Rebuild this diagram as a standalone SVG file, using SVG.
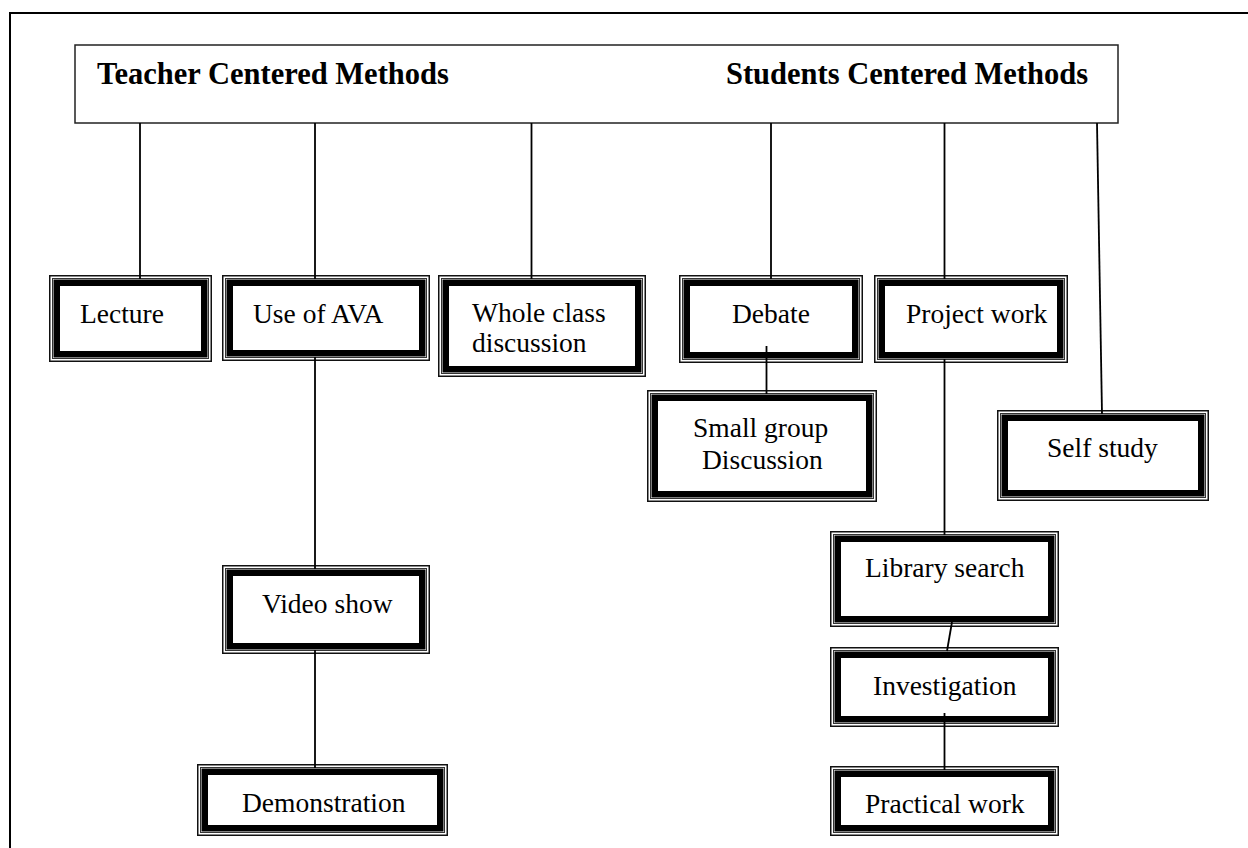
<svg xmlns="http://www.w3.org/2000/svg" width="1248" height="848" viewBox="0 0 1248 848">
<style>
.bg{fill:#fff}
.frame{fill:none;stroke:#000;stroke-width:2}
.hdr{fill:#fff;stroke:#222;stroke-width:1.5}
.o{fill:#fff;stroke:#111;stroke-width:1.5}
.m{fill:none;stroke:#333;stroke-width:1}
.t{fill:#fff;stroke:#000;stroke-width:6.5}
.c{fill:none;stroke:#000;stroke-width:1.8}
text{font-family:"Liberation Serif","Times New Roman",serif;fill:#000}
.h{font-size:30.5px;font-weight:bold}
.l{font-size:27.5px}
</style>
<rect class="bg" x="0" y="0" width="1248" height="848"/>
<rect class="frame" x="10" y="13" width="1250" height="850"/>

<g id="header">
<rect class="hdr" x="75" y="45" width="1043" height="78"/>
<text class="h" x="97" y="84">Teacher Centered Methods</text>
<text class="h" x="726" y="84">Students Centered Methods</text>
</g>

<g id="lecture">
<rect class="o" x="49.75" y="275.75" width="161.5" height="85.5"/>
<rect class="m" x="52.5" y="278.5" width="156" height="80"/>
<rect class="t" x="56.75" y="282.75" width="147.5" height="71.5"/>
<text class="l" x="80" y="323">Lecture</text>
</g>

<g id="ava">
<rect class="o" x="222.75" y="275.75" width="206.5" height="84.5"/>
<rect class="m" x="225.5" y="278.5" width="201" height="79"/>
<rect class="t" x="229.75" y="282.75" width="192.5" height="70.5"/>
<text class="l" x="253" y="323">Use of AVA</text>
</g>

<g id="whole">
<rect class="o" x="438.75" y="275.75" width="206.5" height="100.5"/>
<rect class="m" x="441.5" y="278.5" width="201" height="95"/>
<rect class="t" x="445.75" y="282.75" width="192.5" height="86.5"/>
<text class="l" x="472" y="322">Whole class</text>
<text class="l" x="472" y="352">discussion</text>
</g>

<g id="debate">
<rect class="o" x="679.75" y="275.75" width="182.5" height="86.5"/>
<rect class="m" x="682.5" y="278.5" width="177" height="81"/>
<rect class="t" x="686.75" y="282.75" width="168.5" height="72.5"/>
<text class="l" x="732" y="323">Debate</text>
</g>

<g id="project">
<rect class="o" x="874.75" y="275.75" width="192.5" height="86.5"/>
<rect class="m" x="877.5" y="278.5" width="187" height="81"/>
<rect class="t" x="881.75" y="282.75" width="178.5" height="72.5"/>
<text class="l" x="906" y="323">Project work</text>
</g>

<g id="smallgroup">
<rect class="o" x="647.75" y="390.75" width="228.5" height="110.5"/>
<rect class="m" x="650.5" y="393.5" width="223" height="105"/>
<rect class="t" x="654.75" y="397.75" width="214.5" height="96.5"/>
<text class="l" x="693" y="437">Small group</text>
<text class="l" x="702" y="469">Discussion</text>
</g>

<g id="selfstudy">
<rect class="o" x="997.75" y="410.75" width="210.5" height="89.5"/>
<rect class="m" x="1000.5" y="413.5" width="205" height="84"/>
<rect class="t" x="1004.75" y="417.75" width="196.5" height="75.5"/>
<text class="l" x="1047" y="457">Self study</text>
</g>

<g id="video">
<rect class="o" x="222.75" y="565.75" width="206.5" height="87.5"/>
<rect class="m" x="225.5" y="568.5" width="201" height="82"/>
<rect class="t" x="229.75" y="572.75" width="192.5" height="73.5"/>
<text class="l" x="262" y="613">Video show</text>
</g>

<g id="demo">
<rect class="o" x="197.75" y="764.75" width="249.5" height="70.5"/>
<rect class="m" x="200.5" y="767.5" width="244" height="65"/>
<rect class="t" x="204.75" y="771.75" width="235.5" height="56.5"/>
<text class="l" x="242" y="812">Demonstration</text>
</g>

<g id="library">
<rect class="o" x="830.75" y="531.75" width="227.5" height="94.5"/>
<rect class="m" x="833.5" y="534.5" width="222" height="89"/>
<rect class="t" x="837.75" y="538.75" width="213.5" height="80.5"/>
<text class="l" x="865" y="577">Library search</text>
</g>

<g id="investigation">
<rect class="o" x="830.75" y="647.75" width="227.5" height="78.5"/>
<rect class="m" x="833.5" y="650.5" width="222" height="73"/>
<rect class="t" x="837.75" y="654.75" width="213.5" height="64.5"/>
<text class="l" x="873" y="695">Investigation</text>
</g>

<g id="practical">
<rect class="o" x="830.75" y="766.75" width="227.5" height="68.5"/>
<rect class="m" x="833.5" y="769.5" width="222" height="63"/>
<rect class="t" x="837.75" y="773.75" width="213.5" height="54.5"/>
<text class="l" x="865" y="813">Practical work</text>
</g>

<g id="connectors">
<line class="c" x1="140" y1="123" x2="140" y2="279"/>
<line class="c" x1="315" y1="123" x2="315" y2="279"/>
<line class="c" x1="315" y1="357" x2="315" y2="569"/>
<line class="c" x1="315" y1="650" x2="315" y2="768"/>
<line class="c" x1="531.5" y1="123" x2="531.5" y2="279"/>
<line class="c" x1="771" y1="123" x2="771" y2="279"/>
<line class="c" x1="766.5" y1="346" x2="766.5" y2="394"/>
<line class="c" x1="944.5" y1="123" x2="944.5" y2="279"/>
<line class="c" x1="944.5" y1="359" x2="944.5" y2="535"/>
<line class="c" x1="952" y1="622" x2="947" y2="651"/>
<line class="c" x1="944.5" y1="713" x2="944.5" y2="770"/>
<line class="c" x1="1097" y1="123" x2="1102" y2="414"/>
</g>
</svg>
